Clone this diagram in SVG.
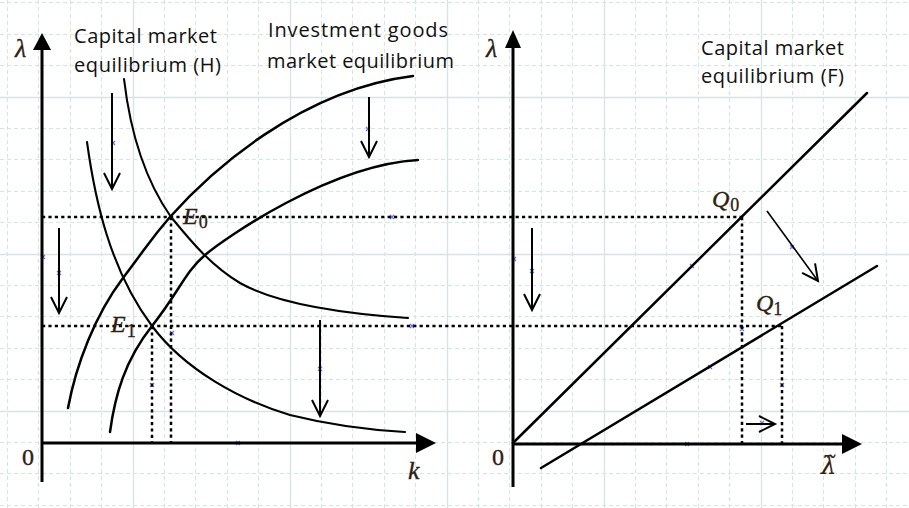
<svg xmlns="http://www.w3.org/2000/svg" width="909" height="508" viewBox="0 0 909 508">
<defs>
<style>
.gd{stroke:#d6e4e4;stroke-width:1;stroke-dasharray:4 3;fill:none}
.gs{stroke:#d6e4e4;stroke-width:1.3;fill:none}
.ax{stroke:#000;stroke-width:3;fill:none}
.hd{fill:#000;stroke:none}
.cv{stroke:#000;stroke-width:2.5;fill:none;stroke-linecap:round}
.cvt{stroke:#000;stroke-width:2.1;fill:none;stroke-linecap:round}
.dot{stroke:#000;stroke-width:2.5;stroke-dasharray:3.2 3.2;fill:none}
.ar{stroke:#000;stroke-width:2;fill:none;marker-end:url(#oa)}
.lbl{font-family:"Open Sans","Liberation Sans",sans-serif;font-size:20px;fill:#111}
.m{font-family:"Liberation Serif","DejaVu Serif",serif;font-style:italic;font-size:26px;fill:#2e2010;stroke:#2e2010;stroke-width:0.35}
.mn{font-family:"Liberation Serif","DejaVu Serif",serif;font-size:24px;fill:#2e2010;stroke:#2e2010;stroke-width:0.35}
.sub{font-family:"Liberation Serif","DejaVu Serif",serif;font-size:18px;fill:#2e2010;stroke:#2e2010;stroke-width:0.3}
.x{stroke:#6a6af0;stroke-width:1.2;fill:none}
</style>
<marker id="oa" viewBox="-18 -10 20 20" refX="0" refY="0" markerWidth="20" markerHeight="20" markerUnits="userSpaceOnUse" orient="auto" overflow="visible">
<path d="M-16,-8 L0,0 L-16,8" fill="none" stroke="#000" stroke-width="2"/>
</marker>
</defs>
<rect width="909" height="508" fill="#fff"/>
<g id="grid">
<path class="gd" d="M7.5,0V508M38.5,0V508M70.5,0V508M101.5,0V508M164.5,0V508M195.5,0V508M227.5,0V508M258.5,0V508M321.5,0V508M352.5,0V508M384.5,0V508M415.5,0V508M478.5,0V508M509.5,0V508M541.5,0V508M572.5,0V508M635.5,0V508M666.5,0V508M698.5,0V508M729.5,0V508M792.5,0V508M823.5,0V508M855.5,0V508M886.5,0V508"/>
<path class="gd" d="M0,2.5H909M0,34.5H909M0,65.5H909M0,128.5H909M0,159.5H909M0,191.5H909M0,222.5H909M0,285.5H909M0,316.5H909M0,348.5H909M0,379.5H909M0,442.5H909M0,473.5H909M0,505.5H909"/>
<path class="gs" d="M133.5,0V508M290.5,0V508M447.5,0V508M604.5,0V508M761.5,0V508M0,97.5H909M0,254.5H909M0,411.5H909"/>
</g>
<g id="marks">
<path class="x" d="M111,141l4,4m0,-4l-4,4M366,127l4,4m0,-4l-4,4M390,215l4,4m0,-4l-4,4M41,255l4,4m0,-4l-4,4M57,271l4,4m0,-4l-4,4M170,331l4,4m0,-4l-4,4M150,383l4,4m0,-4l-4,4M318,367l4,4m0,-4l-4,4M410,324l4,4m0,-4l-4,4M236,441l4,4m0,-4l-4,4M790,245l4,4m0,-4l-4,4M512,257l4,4m0,-4l-4,4M530,269l4,4m0,-4l-4,4M690,264l4,4m0,-4l-4,4M740,327l4,4m0,-4l-4,4M708,365l4,4m0,-4l-4,4M780,383l4,4m0,-4l-4,4M760,421l4,4m0,-4l-4,4M685,442l4,4m0,-4l-4,4"/>
</g>
<g id="connectors">
<path class="dot" d="M42,217H743M42,326H782M171,217V443M152,326V443M742,217V444M782,326V444"/>
<line class="ar" x1="112" y1="93" x2="112" y2="189"/>
<line class="ar" x1="369" y1="97" x2="369" y2="157"/>
<line class="ar" x1="59" y1="228" x2="59" y2="313"/>
<line class="ar" x1="320" y1="320" x2="320" y2="416"/>
<line class="ar" x1="532" y1="228" x2="532" y2="310"/>
<line class="ar" x1="767" y1="211" x2="818" y2="281" style="stroke-width:1.6"/>
<line class="ar" x1="746" y1="424" x2="775" y2="424"/>
</g>
<g id="left-axes">
<line class="ax" x1="42" y1="48" x2="42" y2="482"/>
<polygon class="hd" points="42,33 51,50 33,50"/>
<line class="ax" x1="42" y1="443" x2="420" y2="443"/>
<polygon class="hd" points="436,443 416,433 416,453"/>
<text class="m" x="15" y="57">λ</text>
<text class="mn" x="22" y="465">0</text>
<text class="m" x="408" y="479">k</text>
</g>
<g id="curve-H0"><path class="cvt" d="M124,79 C130,130 145,180 171,217 C190,240 210,265 240,283 C270,300 320,312 408,318"/></g>
<g id="curve-H1"><path class="cvt" d="M87,142 C95,200 110,270 152,326 C185,370 240,400 290,415 C330,425 370,430 405,432"/></g>
<g id="curve-I0"><path class="cv" d="M68,408 C76,365 95,315 123,278 S150,240 170,217 C210,172 300,90 413,76"/></g>
<g id="curve-I1"><path class="cv" d="M110,432 C115,395 125,360 152,326 S185,272 205,255 C225,238 330,165 418,160"/></g>
<g id="label-H">
<text class="lbl" x="74" y="43" textLength="143">Capital market</text>
<text class="lbl" x="74" y="72" textLength="147">equilibrium (H)</text>
</g>
<g id="label-I">
<text class="lbl" x="268" y="37" textLength="180">Investment goods</text>
<text class="lbl" x="267" y="68" textLength="187">market equilibrium</text>
</g>
<g id="E0"><text class="m" x="183" y="224" style="font-size:24px">E<tspan class="sub" dx="1" dy="4" style="font-style:normal">0</tspan></text></g>
<g id="E1"><text class="m" x="111" y="332" style="font-size:24px">E<tspan class="sub" dx="1" dy="5" style="font-style:normal">1</tspan></text></g>
<g id="right-axes">
<line class="ax" x1="513" y1="46" x2="513" y2="487"/>
<polygon class="hd" points="513,30 521,48 505,48"/>
<line class="ax" x1="513" y1="444" x2="845" y2="444"/>
<polygon class="hd" points="862,444 842,434 842,454"/>
<text class="m" x="486" y="57">λ</text>
<text class="mn" x="492" y="465">0</text>
<text class="m" x="821" y="474" style="font-family:'DejaVu Serif',serif;font-size:24px;stroke-width:0.2">λ̃</text>
</g>
<g id="line-F0"><path class="cv" d="M513,443 L867,93"/></g>
<g id="line-F1"><path class="cv" d="M541,468 L877,266"/></g>
<g id="label-F">
<text class="lbl" x="701" y="55" textLength="143">Capital market</text>
<text class="lbl" x="701" y="83" textLength="143">equilibrium (F)</text>
</g>
<g id="Q0"><text class="m" x="712" y="207" style="font-size:24px">Q<tspan class="sub" dx="1" dy="4" style="font-style:normal">0</tspan></text></g>
<g id="Q1"><text class="m" x="756" y="311" style="font-size:24px">Q<tspan class="sub" dx="0" dy="4" style="font-style:normal">1</tspan></text></g>
</svg>
